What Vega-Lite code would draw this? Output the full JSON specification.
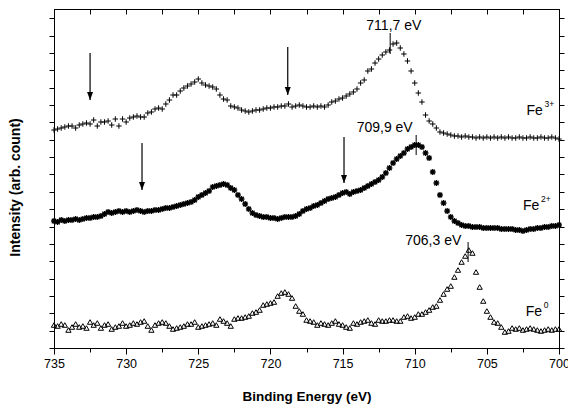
{
  "$schema": "https://vega.github.io/schema/vega-lite/v6.json",
  "width": 505,
  "height": 339,
  "autosize": {"type": "none"},
  "padding": {"left": 54, "top": 9, "right": 9, "bottom": 57},
  "background": "white",
  "config": {
    "view": {"stroke": "black", "strokeWidth": 1},
    "font": "Liberation Sans",
    "axis": {
      "grid": false,
      "domainColor": "black",
      "tickColor": "black",
      "tickWidth": 1,
      "labelColor": "black",
      "labelFont": "Liberation Sans",
      "labelFontSize": 12.5,
      "titleColor": "black",
      "titleFont": "Liberation Sans",
      "titleFontSize": 14,
      "titleFontWeight": "bold"
    }
  },
  "datasets": {
    "fe3": [
      {"e":735,"i":218},{"e":734.75,"i":219},{"e":734.5,"i":220},{"e":734.25,"i":221},{"e":734,"i":222},{"e":733.75,"i":222},{"e":733.5,"i":220},{"e":733.25,"i":223},{"e":733,"i":224},{"e":732.75,"i":225},{"e":732.5,"i":224},{"e":732.25,"i":228},{"e":732,"i":222},{"e":731.75,"i":226},{"e":731.5,"i":226},{"e":731.25,"i":227},{"e":731,"i":223},{"e":730.75,"i":229},{"e":730.5,"i":222},{"e":730.25,"i":229},{"e":730,"i":226},{"e":729.75,"i":230},{"e":729.5,"i":231},{"e":729.25,"i":232},{"e":729,"i":231},{"e":728.75,"i":231},{"e":728.5,"i":235},{"e":728.25,"i":236},{"e":728,"i":239},{"e":727.75,"i":240},{"e":727.5,"i":239},{"e":727.25,"i":244},{"e":727,"i":248},{"e":726.75,"i":253},{"e":726.5,"i":253},{"e":726.25,"i":257},{"e":726,"i":260},{"e":725.75,"i":262},{"e":725.5,"i":264},{"e":725.25,"i":266},{"e":725,"i":269},{"e":724.75,"i":265},{"e":724.5,"i":263},{"e":724.25,"i":262},{"e":724,"i":261},{"e":723.75,"i":259},{"e":723.5,"i":253},{"e":723.25,"i":249},{"e":723,"i":248},{"e":722.75,"i":242},{"e":722.5,"i":241},{"e":722.25,"i":240},{"e":722,"i":238},{"e":721.75,"i":237},{"e":721.5,"i":236},{"e":721.25,"i":237},{"e":721,"i":238},{"e":720.75,"i":238},{"e":720.5,"i":239},{"e":720.25,"i":240},{"e":720,"i":240},{"e":719.75,"i":241},{"e":719.5,"i":241},{"e":719.25,"i":242},{"e":719,"i":242},{"e":718.75,"i":244},{"e":718.5,"i":241},{"e":718.25,"i":242},{"e":718,"i":243},{"e":717.75,"i":242},{"e":717.5,"i":241},{"e":717.25,"i":241},{"e":717,"i":242},{"e":716.75,"i":241},{"e":716.5,"i":242},{"e":716.25,"i":241},{"e":716,"i":243},{"e":715.75,"i":246},{"e":715.5,"i":247},{"e":715.25,"i":249},{"e":715,"i":250},{"e":714.75,"i":252},{"e":714.5,"i":254},{"e":714.25,"i":256},{"e":714,"i":259},{"e":713.75,"i":265},{"e":713.5,"i":268},{"e":713.25,"i":277},{"e":713,"i":279},{"e":712.75,"i":285},{"e":712.5,"i":289},{"e":712.25,"i":293},{"e":712,"i":296},{"e":711.75,"i":298},{"e":711.5,"i":304},{"e":711.25,"i":305},{"e":711,"i":300},{"e":710.75,"i":294},{"e":710.5,"i":287},{"e":710.25,"i":277},{"e":710,"i":265},{"e":709.75,"i":255},{"e":709.5,"i":246},{"e":709.25,"i":233},{"e":709,"i":227},{"e":708.75,"i":224},{"e":708.5,"i":220},{"e":708.25,"i":216},{"e":708,"i":215},{"e":707.75,"i":214},{"e":707.5,"i":213},{"e":707.25,"i":212},{"e":707,"i":212},{"e":706.75,"i":211},{"e":706.5,"i":212},{"e":706.25,"i":211},{"e":706,"i":211},{"e":705.75,"i":210},{"e":705.5,"i":211},{"e":705.25,"i":210},{"e":705,"i":211},{"e":704.75,"i":210},{"e":704.5,"i":211},{"e":704.25,"i":210},{"e":704,"i":211},{"e":703.75,"i":210},{"e":703.5,"i":211},{"e":703.25,"i":210},{"e":703,"i":210},{"e":702.75,"i":211},{"e":702.5,"i":210},{"e":702.25,"i":210},{"e":702,"i":211},{"e":701.75,"i":210},{"e":701.5,"i":210},{"e":701.25,"i":211},{"e":701,"i":210},{"e":700.75,"i":210},{"e":700.5,"i":211},{"e":700.25,"i":210},{"e":700,"i":209}
    ],
    "fe2": [
      {"e":735,"i":127},{"e":734.75,"i":126},{"e":734.5,"i":128},{"e":734.25,"i":127},{"e":734,"i":128},{"e":733.75,"i":128},{"e":733.5,"i":129},{"e":733.25,"i":128},{"e":733,"i":129},{"e":732.75,"i":130},{"e":732.5,"i":130},{"e":732.25,"i":131},{"e":732,"i":131},{"e":731.75,"i":132},{"e":731.5,"i":134},{"e":731.25,"i":136},{"e":731,"i":135},{"e":730.75,"i":136},{"e":730.5,"i":137},{"e":730.25,"i":136},{"e":730,"i":137},{"e":729.75,"i":136},{"e":729.5,"i":137},{"e":729.25,"i":138},{"e":729,"i":137},{"e":728.75,"i":136},{"e":728.5,"i":137},{"e":728.25,"i":137},{"e":728,"i":138},{"e":727.75,"i":138},{"e":727.5,"i":139},{"e":727.25,"i":140},{"e":727,"i":140},{"e":726.75,"i":141},{"e":726.5,"i":142},{"e":726.25,"i":143},{"e":726,"i":144},{"e":725.75,"i":145},{"e":725.5,"i":146},{"e":725.25,"i":148},{"e":725,"i":151},{"e":724.75,"i":153},{"e":724.5,"i":155},{"e":724.25,"i":157},{"e":724,"i":161},{"e":723.75,"i":162},{"e":723.5,"i":163},{"e":723.25,"i":164},{"e":723,"i":163},{"e":722.75,"i":160},{"e":722.5,"i":158},{"e":722.25,"i":153},{"e":722,"i":149},{"e":721.75,"i":144},{"e":721.5,"i":139},{"e":721.25,"i":135},{"e":721,"i":133},{"e":720.75,"i":132},{"e":720.5,"i":131},{"e":720.25,"i":131},{"e":720,"i":130},{"e":719.75,"i":130},{"e":719.5,"i":129},{"e":719.25,"i":130},{"e":719,"i":131},{"e":718.75,"i":131},{"e":718.5,"i":131},{"e":718.25,"i":132},{"e":718,"i":134},{"e":717.75,"i":137},{"e":717.5,"i":139},{"e":717.25,"i":140},{"e":717,"i":142},{"e":716.75,"i":143},{"e":716.5,"i":145},{"e":716.25,"i":147},{"e":716,"i":149},{"e":715.75,"i":150},{"e":715.5,"i":151},{"e":715.25,"i":153},{"e":715,"i":155},{"e":714.75,"i":156},{"e":714.5,"i":154},{"e":714.25,"i":156},{"e":714,"i":157},{"e":713.75,"i":158},{"e":713.5,"i":160},{"e":713.25,"i":162},{"e":713,"i":164},{"e":712.75,"i":166},{"e":712.5,"i":168},{"e":712.25,"i":171},{"e":712,"i":175},{"e":711.75,"i":180},{"e":711.5,"i":185},{"e":711.25,"i":189},{"e":711,"i":192},{"e":710.75,"i":195},{"e":710.5,"i":199},{"e":710.25,"i":201},{"e":710,"i":203},{"e":709.75,"i":203},{"e":709.5,"i":201},{"e":709.25,"i":195},{"e":709,"i":190},{"e":708.75,"i":176},{"e":708.5,"i":165},{"e":708.25,"i":153},{"e":708,"i":145},{"e":707.75,"i":137},{"e":707.5,"i":131},{"e":707.25,"i":127},{"e":707,"i":125},{"e":706.75,"i":123},{"e":706.5,"i":122},{"e":706.25,"i":122},{"e":706,"i":121},{"e":705.75,"i":121},{"e":705.5,"i":121},{"e":705.25,"i":120},{"e":705,"i":120},{"e":704.75,"i":120},{"e":704.5,"i":120},{"e":704.25,"i":120},{"e":704,"i":119},{"e":703.75,"i":119},{"e":703.5,"i":119},{"e":703.25,"i":119},{"e":703,"i":118},{"e":702.75,"i":118},{"e":702.5,"i":117},{"e":702.25,"i":118},{"e":702,"i":119},{"e":701.75,"i":119},{"e":701.5,"i":120},{"e":701.25,"i":120},{"e":701,"i":121},{"e":700.75,"i":121},{"e":700.5,"i":122},{"e":700.25,"i":122},{"e":700,"i":123}
    ],
    "fe0": [
      {"e":735,"i":23},{"e":734.75,"i":22},{"e":734.5,"i":24},{"e":734.25,"i":23},{"e":734,"i":18},{"e":733.75,"i":21},{"e":733.5,"i":24},{"e":733.25,"i":21},{"e":733,"i":22},{"e":732.75,"i":20},{"e":732.5,"i":26},{"e":732.25,"i":23},{"e":732,"i":25},{"e":731.75,"i":20},{"e":731.5,"i":23},{"e":731.25,"i":24},{"e":731,"i":19},{"e":730.75,"i":21},{"e":730.5,"i":22},{"e":730.25,"i":25},{"e":730,"i":22},{"e":729.75,"i":23},{"e":729.5,"i":25},{"e":729.25,"i":24},{"e":729,"i":26},{"e":728.75,"i":27},{"e":728.5,"i":22},{"e":728.25,"i":18},{"e":728,"i":23},{"e":727.75,"i":25},{"e":727.5,"i":26},{"e":727.25,"i":25},{"e":727,"i":22},{"e":726.75,"i":19},{"e":726.5,"i":20},{"e":726.25,"i":21},{"e":726,"i":22},{"e":725.75,"i":24},{"e":725.5,"i":24},{"e":725.25,"i":26},{"e":725,"i":21},{"e":724.75,"i":22},{"e":724.5,"i":23},{"e":724.25,"i":24},{"e":724,"i":25},{"e":723.75,"i":23},{"e":723.5,"i":29},{"e":723.25,"i":27},{"e":723,"i":25},{"e":722.75,"i":22},{"e":722.5,"i":29},{"e":722.25,"i":30},{"e":722,"i":30},{"e":721.75,"i":31},{"e":721.5,"i":32},{"e":721.25,"i":35},{"e":721,"i":36},{"e":720.75,"i":38},{"e":720.5,"i":43},{"e":720.25,"i":44},{"e":720,"i":45},{"e":719.75,"i":46},{"e":719.5,"i":52},{"e":719.25,"i":55},{"e":719,"i":56},{"e":718.75,"i":54},{"e":718.5,"i":50},{"e":718.25,"i":42},{"e":718,"i":37},{"e":717.75,"i":34},{"e":717.5,"i":28},{"e":717.25,"i":27},{"e":717,"i":26},{"e":716.75,"i":23},{"e":716.5,"i":25},{"e":716.25,"i":24},{"e":716,"i":23},{"e":715.75,"i":25},{"e":715.5,"i":27},{"e":715.25,"i":24},{"e":715,"i":23},{"e":714.75,"i":21},{"e":714.5,"i":20},{"e":714.25,"i":25},{"e":714,"i":24},{"e":713.75,"i":26},{"e":713.5,"i":27},{"e":713.25,"i":28},{"e":713,"i":25},{"e":712.75,"i":24},{"e":712.5,"i":28},{"e":712.25,"i":27},{"e":712,"i":27},{"e":711.75,"i":28},{"e":711.5,"i":28},{"e":711.25,"i":27},{"e":711,"i":27},{"e":710.75,"i":31},{"e":710.5,"i":32},{"e":710.25,"i":30},{"e":710,"i":31},{"e":709.75,"i":34},{"e":709.5,"i":34},{"e":709.25,"i":36},{"e":709,"i":38},{"e":708.75,"i":41},{"e":708.5,"i":42},{"e":708.25,"i":48},{"e":708,"i":54},{"e":707.75,"i":59},{"e":707.5,"i":62},{"e":707.25,"i":71},{"e":707,"i":78},{"e":706.75,"i":86},{"e":706.5,"i":92},{"e":706.25,"i":98},{"e":706,"i":95},{"e":705.75,"i":76},{"e":705.5,"i":61},{"e":705.25,"i":47},{"e":705,"i":37},{"e":704.75,"i":31},{"e":704.5,"i":26},{"e":704.25,"i":25},{"e":704,"i":21},{"e":703.75,"i":16},{"e":703.5,"i":17},{"e":703.25,"i":20},{"e":703,"i":19},{"e":702.75,"i":20},{"e":702.5,"i":18},{"e":702.25,"i":19},{"e":702,"i":20},{"e":701.75,"i":19},{"e":701.5,"i":18},{"e":701.25,"i":17},{"e":701,"i":18},{"e":700.75,"i":19},{"e":700.5,"i":18},{"e":700.25,"i":19},{"e":700,"i":19}
    ],
    "peaks": [
      {"e":711.7,"i":315,"i2":294,"le":709.54,"li":318,"label":"711,7 eV"},
      {"e":709.9,"i":213,"i2":193,"le":710.14,"li":216,"label":"709,9 eV"},
      {"e":706.3,"i":106,"i2":86,"le":706.77,"li":103,"label":"706,3 eV"}
    ],
    "arrows": [
      {"e":732.5,"i":295,"i2":248},
      {"e":718.8,"i":301,"i2":253},
      {"e":728.9,"i":205,"i2":158},
      {"e":714.9,"i":211,"i2":165}
    ],
    "ions": [
      {"e":702.25,"i":233,"ion":"Fe","charge":"3+"},
      {"e":702.5,"i":138,"ion":"Fe","charge":"2+"},
      {"e":702.3,"i":32,"ion":"Fe","charge":"0"}
    ]
  },
  "encoding": {
    "x": {"field": "e", "type": "quantitative", "scale": {"domain": [700, 735], "reverse": true, "nice": false, "zero": false}, "axis": null},
    "y": {"field": "i", "type": "quantitative", "scale": {"domain": [0, 339], "nice": false, "zero": false}, "axis": null}
  },
  "layer": [
    {
      "data": {"name": "fe3"},
      "mark": {"type": "point", "shape": "M-1,0L1,0M0,-1L0,1", "filled": false, "color": "black", "strokeWidth": 1, "size": 30, "opacity": 1},
      "encoding": {
        "x": {
          "field": "e", "type": "quantitative",
          "scale": {"domain": [700, 735], "reverse": true, "nice": false, "zero": false},
          "axis": {
            "orient": "bottom",
            "values": [700, 702.5, 705, 707.5, 710, 712.5, 715, 717.5, 720, 722.5, 725, 727.5, 730, 732.5, 735],
            "labelExpr": "datum.value % 5 === 0 ? datum.label : ''",
            "tickSize": {"condition": {"test": "datum.value % 5 === 0", "value": 6}, "value": 4},
            "labelPadding": 3,
            "labelFlush": false,
            "labelOverlap": false,
            "title": "Binding Energy (eV)",
            "titleFontSize": 13.5,
            "titleY": 52,
            "titleBaseline": "alphabetic"
          }
        },
        "y": {
          "field": "i", "type": "quantitative",
          "scale": {"domain": [0, 339], "nice": false, "zero": false},
          "axis": {
            "orient": "left",
            "values": [0, 17.35, 34.7, 52.05, 69.4, 86.75, 104.1, 121.45, 138.8, 156.15, 173.5, 190.85, 208.2, 225.55, 242.9, 260.25, 277.6, 294.95, 312.3, 329.65],
            "labels": false,
            "tickSize": 5,
            "title": "Intensity (arb. count)",
            "titleX": -35,
            "titleY": 178,
            "titleBaseline": "alphabetic"
          }
        }
      }
    },
    {
      "data": {"name": "fe2"},
      "mark": {"type": "point", "shape": "M-1,0L1,0M0,-1L0,1M-0.75,-0.75L0.75,0.75M-0.75,0.75L0.75,-0.75", "filled": false, "color": "black", "strokeWidth": 1.3, "size": 34, "opacity": 1},
      "encoding": {
        "x": {
          "field": "e", "type": "quantitative",
          "scale": {"domain": [700, 735], "reverse": true, "nice": false, "zero": false},
          "axis": {
            "orient": "top",
            "values": [700, 702.5, 705, 707.5, 710, 712.5, 715, 717.5, 720, 722.5, 725, 727.5, 730, 732.5, 735],
            "labels": false,
            "tickSize": -5,
            "title": null
          }
        },
        "y": {
          "field": "i", "type": "quantitative",
          "scale": {"domain": [0, 339], "nice": false, "zero": false},
          "axis": {
            "orient": "right",
            "values": [0, 17.35, 34.7, 52.05, 69.4, 86.75, 104.1, 121.45, 138.8, 156.15, 173.5, 190.85, 208.2, 225.55, 242.9, 260.25, 277.6, 294.95, 312.3, 329.65],
            "labels": false,
            "tickSize": 5,
            "title": null
          }
        }
      }
    },
    {
      "data": {"name": "fe0"},
      "mark": {"type": "point", "shape": "triangle-up", "filled": false, "color": "black", "strokeWidth": 1, "size": 28, "opacity": 1}
    },
    {
      "data": {"name": "peaks"},
      "mark": {"type": "rule", "color": "black", "strokeWidth": 1},
      "encoding": {"y2": {"field": "i2"}}
    },
    {
      "data": {"name": "peaks"},
      "mark": {"type": "text", "font": "Liberation Sans", "fontSize": 14, "align": "right", "baseline": "alphabetic", "color": "black"},
      "encoding": {
        "x": {"field": "le", "type": "quantitative", "axis": null},
        "y": {"field": "li", "type": "quantitative", "axis": null},
        "text": {"field": "label"}
      }
    },
    {
      "data": {"name": "arrows"},
      "mark": {"type": "rule", "color": "black", "strokeWidth": 1.2},
      "encoding": {"y2": {"field": "i2"}}
    },
    {
      "data": {"name": "arrows"},
      "mark": {"type": "point", "shape": "M-0.6,-1.6L0.6,-1.6L0,0Z", "filled": true, "color": "black", "size": 100, "opacity": 1},
      "encoding": {"y": {"field": "i2", "type": "quantitative", "axis": null}}
    },
    {
      "data": {"name": "ions"},
      "mark": {"type": "text", "font": "Liberation Sans", "fontSize": 14, "align": "left", "baseline": "alphabetic", "color": "black"},
      "encoding": {"text": {"field": "ion"}}
    },
    {
      "data": {"name": "ions"},
      "mark": {"type": "text", "font": "Liberation Sans", "fontSize": 8.5, "align": "left", "baseline": "alphabetic", "color": "black", "dx": 18, "dy": -8},
      "encoding": {"text": {"field": "charge"}}
    }
  ],
  "resolve": {"axis": {"x": "independent", "y": "independent"}}
}
